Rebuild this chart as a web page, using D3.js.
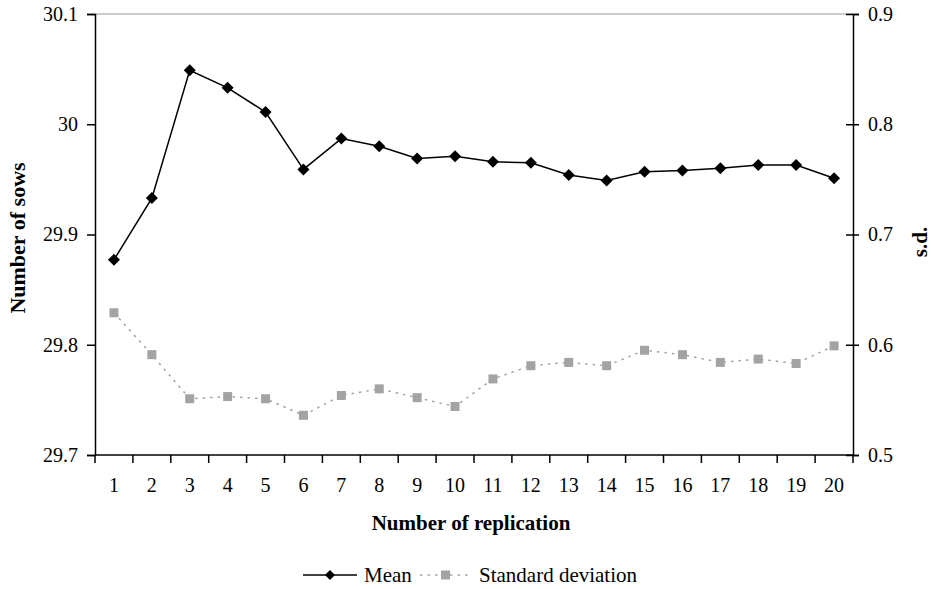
<!DOCTYPE html>
<html>
<head>
<meta charset="utf-8">
<script src="https://cdn.jsdelivr.net/npm/d3@7"></script>
<style>
  html, body { margin: 0; padding: 0; background: #fff; }
  svg { display: block; font-family: "Liberation Serif", "Times New Roman", serif; }
</style>
</head>
<body>
<svg id="chart" width="931" height="589"></svg>
<script>
// Replication number (x) and the two series
const replications = d3.range(1, 21);
const meanValues = [29.877, 29.933, 30.049, 30.033, 30.011, 29.959, 29.987, 29.980, 29.969, 29.971,
                    29.966, 29.965, 29.954, 29.949, 29.957, 29.958, 29.960, 29.963, 29.963, 29.951];
const sdValues = [0.629, 0.591, 0.551, 0.553, 0.551, 0.536, 0.554, 0.560, 0.552, 0.544,
                  0.569, 0.581, 0.584, 0.581, 0.595, 0.591, 0.584, 0.587, 0.583, 0.599];
const leftTicks = [29.7, 29.8, 29.9, 30, 30.1];
const rightTicks = [0.5, 0.6, 0.7, 0.8, 0.9];

const svg = d3.select("#chart");
const plot = { left: 95, right: 853, top: 14, bottom: 455 };

const x = d3.scaleBand().domain(replications).range([plot.left, plot.right]);
const yMean = d3.scaleLinear().domain([29.7, 30.1]).range([plot.bottom, plot.top]);
const ySd = d3.scaleLinear().domain([0.5, 0.9]).range([plot.bottom, plot.top]);
const cx = d => x(d) + x.bandwidth() / 2;

// top frame line
svg.append("line")
  .attr("x1", plot.left).attr("x2", plot.right)
  .attr("y1", plot.top).attr("y2", plot.top)
  .attr("stroke", "#999").attr("stroke-width", 1.2);

// left axis
const gL = svg.append("g").attr("transform", `translate(${plot.left},0)`)
  .call(d3.axisLeft(yMean).tickValues(leftTicks).tickFormat(d => String(+d.toFixed(1))).tickSize(8).tickPadding(9));
// right axis, ticks crossing the line
const gR = svg.append("g").attr("transform", `translate(${plot.right},0)`)
  .call(d3.axisRight(ySd).tickValues(rightTicks).tickFormat(d3.format(".1f")).tickSize(6).tickPadding(9));
gR.selectAll(".tick line").attr("x1", -7);
// bottom axis with ticks at band boundaries
const gB = svg.append("g").attr("transform", `translate(0,${plot.bottom})`)
  .call(d3.axisBottom(x).tickSize(0).tickPadding(23));
gB.selectAll(".tick line").remove();
gB.selectAll(".bound")
  .data(d3.range(0, replications.length + 1))
  .join("line")
  .attr("x1", i => plot.left + i * x.step()).attr("x2", i => plot.left + i * x.step())
  .attr("y1", 0).attr("y2", 8).attr("stroke", "#000").attr("stroke-width", 1.5);

[gL, gR, gB].forEach(g => {
  g.attr("font-family", null);
  g.select(".domain").attr("stroke", "#000").attr("stroke-width", 1.5);
  g.selectAll(".tick line").attr("stroke", "#000").attr("stroke-width", 1.5);
  g.selectAll("text").attr("font-family", "Liberation Serif, serif").attr("font-size", 20).attr("fill", "#000");
});
gB.select(".domain").attr("d", `M${plot.left},0H${plot.right}`);

// axis titles
svg.append("text").attr("transform", "translate(25,238) rotate(-90)")
  .attr("text-anchor", "middle").attr("font-weight", "bold").attr("font-size", 22)
  .text("Number of sows");
svg.append("text").attr("transform", "translate(927,242) rotate(-90)")
  .attr("text-anchor", "middle").attr("font-weight", "bold").attr("font-size", 21)
  .text("s.d.");
svg.append("text").attr("x", 471).attr("y", 530)
  .attr("text-anchor", "middle").attr("font-weight", "bold").attr("font-size", 21)
  .text("Number of replication");

const grey = "#a3a3a3";
// square diamond marker
const diamond = "M0,-6L6,0L0,6L-6,0Z";

// standard deviation series
svg.append("path").datum(sdValues)
  .attr("fill", "none").attr("stroke", grey).attr("stroke-width", 1.5).attr("stroke-dasharray", "2.5,5")
  .attr("d", d3.line().x((d, i) => cx(replications[i])).y(d => ySd(d)));
svg.selectAll(".sd").data(sdValues).join("rect")
  .attr("x", (d, i) => cx(replications[i]) - 4.5).attr("y", d => ySd(d) - 4.5)
  .attr("width", 9).attr("height", 9).attr("fill", grey);

// mean series
svg.append("path").datum(meanValues)
  .attr("fill", "none").attr("stroke", "#000").attr("stroke-width", 1.5)
  .attr("d", d3.line().x((d, i) => cx(replications[i])).y(d => yMean(d)));
svg.selectAll(".mean").data(meanValues).join("path")
  .attr("transform", (d, i) => `translate(${cx(replications[i])},${yMean(d)})`)
  .attr("d", diamond).attr("fill", "#000");

// legend
const lg = svg.append("g").attr("transform", "translate(0,575)");
lg.append("line").attr("x1", 303).attr("x2", 357).attr("stroke", "#000").attr("stroke-width", 1.5);
lg.append("path").attr("transform", "translate(330,0)").attr("d", "M0,-5L5,0L0,5L-5,0Z").attr("fill", "#000");
lg.append("text").attr("x", 364).attr("y", 7).attr("font-size", 21).text("Mean");
lg.append("line").attr("x1", 420).attr("x2", 471).attr("stroke", grey).attr("stroke-width", 1.5).attr("stroke-dasharray", "2.5,5");
lg.append("rect").attr("x", 441).attr("y", -4.5).attr("width", 9).attr("height", 9).attr("fill", grey);
lg.append("text").attr("x", 479).attr("y", 7).attr("font-size", 21).text("Standard deviation");
</script>
</body>
</html>
